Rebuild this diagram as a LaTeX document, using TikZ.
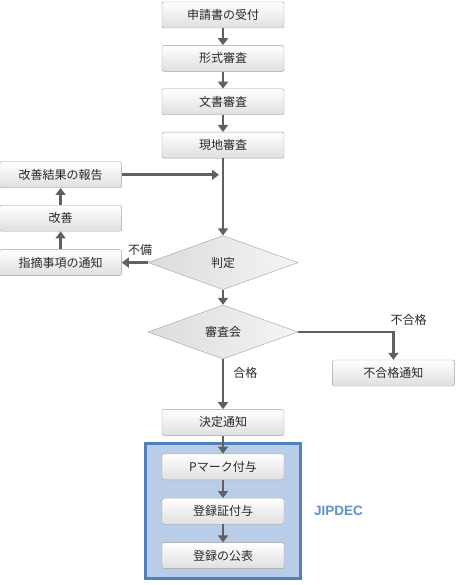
\documentclass[tikz,border=0pt]{standalone}
\usepackage{fontspec}
\setmainfont{Liberation Sans}
\newfontfamily\jp{Noto Sans CJK JP}
\usepackage{tikz}
\usetikzlibrary{arrows.meta,positioning,calc,shapes.geometric,fit,backgrounds}
\definecolor{flowGray}{RGB}{96,96,96}
\definecolor{edgeGray}{RGB}{160,160,160}
\definecolor{textGray}{RGB}{40,40,40}
\definecolor{pmBlue}{RGB}{79,129,189}
\definecolor{pmFill}{RGB}{186,205,232}
\definecolor{pmText}{RGB}{95,142,204}
\tikzset{
  stepbox/.style={rounded corners=2pt, draw=edgeGray, top color=white, bottom color=gray!25,
                  minimum width=122pt, minimum height=26pt, inner sep=2pt, text=textGray,
                  font=\jp\fontsize{12}{14}\selectfont},
  judge/.style={diamond, draw=edgeGray, left color=gray!28, right color=gray!8, aspect=2.75,
                inner sep=0pt, minimum width=150pt, minimum height=54pt, text=textGray,
                font=\jp\fontsize{12}{14}\selectfont},
  flow/.style={-{Triangle[width=10pt,length=7pt]}, line width=2.8pt, draw=flowGray},
  note/.style={text=textGray, font=\jp\fontsize{12}{14}\selectfont, inner sep=1pt},
  orgframe/.style={draw=pmBlue, line width=2.8pt, fill=pmFill, inner xsep=16pt, inner ysep=10pt}
}
\begin{document}
\begin{tikzpicture}[node distance=17pt]
\useasboundingbox (0,0) rectangle (456pt,-585pt);
% main column
\node[stepbox] (uketsuke) at (223pt,-15pt) {申請書の受付};
\node[stepbox, below=of uketsuke] (keishiki) {形式審査};
\node[stepbox, below=of keishiki] (bunsho) {文書審査};
\node[stepbox, below=of bunsho] (genchi) {現地審査};
\node[judge, below=77pt of genchi] (hantei) {判定};
\node[judge, below=15pt of hantei] (shinsakai) {審査会};
\node[stepbox, below=50pt of shinsakai] (kettei) {決定通知};
% JIPDEC part
\node[stepbox, below=18pt of kettei] (pmark) {Pマーク付与};
\node[stepbox, below=18pt of pmark] (shousho) {登録証付与};
\node[stepbox, below=18pt of shousho] (kouhyou) {登録の公表};
\begin{scope}[on background layer]
\node[orgframe, fit=(pmark)(kouhyou)] (jipdecFrame) {};
\end{scope}
\node[right=9pt of jipdecFrame.east |- shousho, text=pmText, font=\bfseries\fontsize{13.5}{15}\selectfont] (jipdec) {JIPDEC};
% left loop
\node[stepbox, left=26pt of hantei] (shiteki) {指摘事項の通知};
\node[stepbox, above=18pt of shiteki] (kaizen) {改善};
\node[stepbox, above=17pt of kaizen] (houkoku) {改善結果の報告};
\node[stepbox, right=34pt of shinsakai, yshift=-41pt] (fugoukaku) {不合格通知};
\coordinate (join) at ($(houkoku.east -| genchi.south)+(-4pt,0)$);

\draw[flow] (uketsuke) -- (keishiki);
\draw[flow] (keishiki) -- (bunsho);
\draw[flow] (bunsho) -- (genchi);
\draw[flow] (genchi) -- (hantei);
\draw[flow] (hantei) -- (shinsakai);
\draw[flow] (shinsakai) -- node[note, right=8pt, pos=0.28] (goukaku) {合格} (kettei);
\draw[flow] (hantei) -- node[note, above=5pt, pos=0.3] (fubi) {不備} (shiteki);
\draw[flow] (shiteki) -- (kaizen);
\draw[flow] (kaizen) -- (houkoku);
\draw[flow] (houkoku) -- (join);
\draw[flow] (kettei) -- (pmark);
\draw[flow] (pmark) -- (shousho);
\draw[flow] (shousho) -- (kouhyou);
\draw[flow] (shinsakai.east) -| (fugoukaku.north);
\node[note, above right=5pt and -4pt of shinsakai.east -| fugoukaku.north] (fugoukakuLbl) {不合格};
\end{tikzpicture}
\end{document}
